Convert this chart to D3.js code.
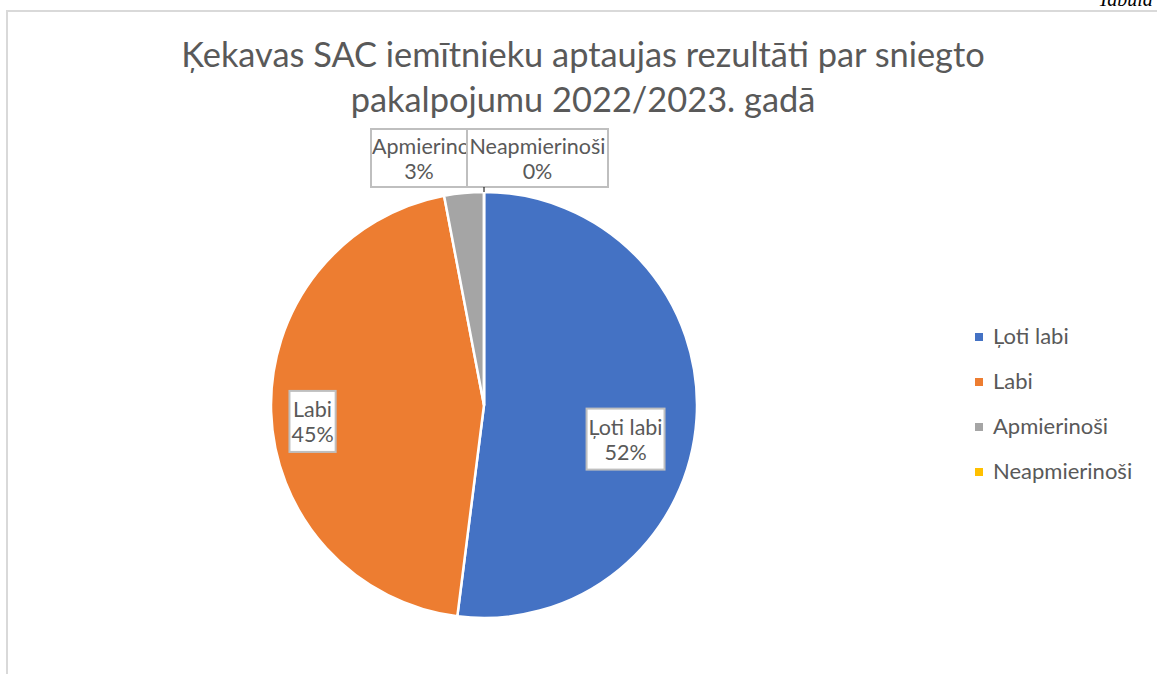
<!DOCTYPE html>
<html lang="lv">
<head>
    <meta charset="UTF-8">
    <title>Ķekavas SAC iemītnieku aptaujas rezultāti</title>
    <script src="https://d3js.org/d3.v7.min.js"></script>
    <style>
        body {
            margin: 0;
            background: #fff;
            font-family: Lato, "Open Sans", sans-serif;
        }
        svg { display: block; }
        .lbl { fill: #595959; }
    </style>
</head>
<body>

<svg id="chart" width="1157" height="674"></svg>

<script>
    // data
    const categories = ["Ļoti labi", "Labi", "Apmierinoši", "Neapmierinoši"];
    const values = [52, 45, 3, 0];
    const colors = ["#4472c4", "#ed7d31", "#a5a5a5", "#ffc000"];
    const titleLines = ["Ķekavas SAC iemītnieku aptaujas rezultāti par sniegto", "pakalpojumu 2022/2023. gadā"];

    const svg = d3.select("#chart");

    // fit a text element to a given width by changing its font size
    function fitWidth(sel, target) {
        const w = sel.node().getComputedTextLength();
        const fs = parseFloat(sel.attr("font-size"));
        sel.attr("font-size", fs * target / w);
        return fs * target / w;
    }

    // document bits around the chart frame
    svg.append("text")
        .attr("x", 1098)
        .attr("y", 6)
        .attr("font-family", "Liberation Serif")
        .attr("font-style", "italic")
        .attr("font-size", 20)
        .attr("fill", "#000")
        .text("Tabula");

    svg.append("rect")
        .attr("x", 7)
        .attr("y", 11)
        .attr("width", 1300)
        .attr("height", 800)
        .attr("fill", "#fff")
        .attr("stroke", "#d9d9d9")
        .attr("stroke-width", 2);

    // title
    const t1 = svg.append("text")
        .attr("class", "lbl")
        .attr("x", 583)
        .attr("y", 67)
        .attr("text-anchor", "middle")
        .attr("font-size", 30)
        .text(titleLines[0]);
    const titleSize = fitWidth(t1, 804);
    svg.append("text")
        .attr("class", "lbl")
        .attr("x", 583)
        .attr("y", 112)
        .attr("text-anchor", "middle")
        .attr("font-size", titleSize)
        .text(titleLines[1]);

    // pie
    const cx = 484, cy = 405, R = 213;
    const pie = d3.pie().sort(null).value(d => d)(values);
    const arc = d3.arc().innerRadius(0).outerRadius(R);
    const total = d3.sum(values);
    const pct = d3.format(".0%");

    const g = svg.append("g").attr("transform", `translate(${cx},${cy})`);

    g.selectAll("path.slice")
        .data(pie)
        .enter()
        .append("path")
        .attr("class", "slice")
        .attr("d", arc)
        .attr("fill", (d, i) => colors[i])
        .attr("stroke", "#fff")
        .attr("stroke-width", 2.5)
        .attr("stroke-linejoin", "round");

    // data labels
    const labelSize = 21.5;
    const lineGap = 25;
    // nudges to follow Excel's best-fit placement
    const nudge = [[-3, 25], [1, 11]];

    // outside labels for the tiny slices sit above the pie, side by side
    const outside = [{ left: -113, width: 96 }, { left: -17, width: 141 }];

    const defs = svg.append("defs");

    pie.forEach((d, i) => {
        const name = categories[i];
        const txt = pct(values[i] / total);
        let bx, by, bw, bh = 58, tx, ty;
        const lg = svg.append("g");

        if (i < 2) {
            const ang = (d.startAngle + d.endAngle) / 2;
            const rr = i === 0 ? 0.68 * R : 0.81 * R;
            tx = cx + Math.sin(ang) * rr + nudge[i][0];
            ty = cy - Math.cos(ang) * rr + nudge[i][1];
        } else {
            const o = outside[i - 2];
            bw = o.width;
            bx = cx + o.left;
            by = cy - R - 5 - bh;
            tx = bx + bw / 2;
            ty = by + bh / 2;
        }

        const t = lg.append("text")
            .attr("class", "lbl")
            .attr("text-anchor", "middle")
            .attr("font-size", labelSize);
        const nm = t.append("tspan").attr("x", tx).attr("y", ty - 4).text(name);
        t.append("tspan").attr("x", tx).attr("y", ty - 4 + lineGap).text(txt);

        if (i < 2) {
            const bb = t.node().getBBox();
            bw = bb.width + 4;
            bh = 61;
            bx = tx - bw / 2;
            by = ty - bh / 2;
        } else {
            // names too long for the box start at its left edge and get cut
            if (nm.node().getComputedTextLength() > bw - 4) {
                nm.attr("text-anchor", "start").attr("x", bx + 1);
            }
            const clipId = "clip" + i;
            defs.append("clipPath").attr("id", clipId)
                .append("rect").attr("x", bx + 1).attr("y", by).attr("width", bw - 2).attr("height", bh);
            t.attr("clip-path", `url(#${clipId})`);
        }

        lg.insert("rect", "text")
            .attr("x", bx)
            .attr("y", by)
            .attr("width", bw)
            .attr("height", bh)
            .attr("fill", "#fff")
            .attr("stroke", "#bfbfbf")
            .attr("stroke-width", 2);
    });

    // leader line for the zero slice
    svg.append("line")
        .attr("x1", cx).attr("x2", cx)
        .attr("y1", cy - R - 5).attr("y2", cy - R)
        .attr("stroke", "#000")
        .attr("stroke-width", 1);

    // legend
    const legend = svg.append("g").attr("transform", "translate(975,333)");
    const items = legend.selectAll("g")
        .data(categories)
        .enter()
        .append("g")
        .attr("transform", (d, i) => `translate(0,${i * 45})`);
    items.append("rect")
        .attr("width", 8)
        .attr("height", 8)
        .attr("fill", (d, i) => colors[i]);
    items.append("text")
        .attr("class", "lbl")
        .attr("x", 18)
        .attr("y", 11)
        .attr("font-size", 22)
        .text(d => d);
</script>

</body>
</html>
